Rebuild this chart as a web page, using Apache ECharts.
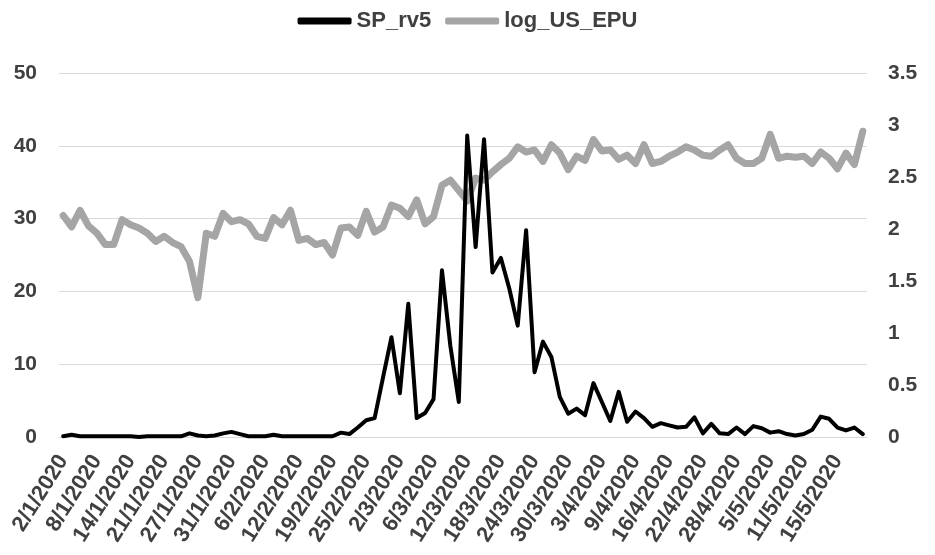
<!DOCTYPE html>
<html>
<head>
<meta charset="utf-8">
<script src="https://cdn.jsdelivr.net/npm/echarts@6/dist/echarts.min.js"></script>
<style>html,body{margin:0;padding:0;background:#fff;}#c{width:935px;height:555px;}</style>
</head>
<body>
<div id="c"></div>
<script>
const dates = [
"2/1/2020","3/1/2020","6/1/2020","7/1/2020","8/1/2020","9/1/2020","10/1/2020","13/1/2020","14/1/2020","15/1/2020",
"16/1/2020","17/1/2020","21/1/2020","22/1/2020","23/1/2020","24/1/2020","27/1/2020","28/1/2020","29/1/2020","30/1/2020",
"31/1/2020","3/2/2020","4/2/2020","5/2/2020","6/2/2020","7/2/2020","10/2/2020","11/2/2020","12/2/2020","13/2/2020",
"14/2/2020","18/2/2020","19/2/2020","20/2/2020","21/2/2020","24/2/2020","25/2/2020","26/2/2020","27/2/2020","28/2/2020",
"2/3/2020","3/3/2020","4/3/2020","5/3/2020","6/3/2020","9/3/2020","10/3/2020","11/3/2020","12/3/2020","13/3/2020",
"16/3/2020","17/3/2020","18/3/2020","19/3/2020","20/3/2020","23/3/2020","24/3/2020","25/3/2020","26/3/2020","27/3/2020",
"30/3/2020","31/3/2020","1/4/2020","2/4/2020","3/4/2020","6/4/2020","7/4/2020","8/4/2020","9/4/2020","13/4/2020",
"14/4/2020","15/4/2020","16/4/2020","17/4/2020","20/4/2020","21/4/2020","22/4/2020","23/4/2020","24/4/2020","27/4/2020",
"28/4/2020","29/4/2020","30/4/2020","4/5/2020","5/5/2020","6/5/2020","7/5/2020","8/5/2020","11/5/2020","12/5/2020",
"13/5/2020","14/5/2020","15/5/2020","18/5/2020","19/5/2020","20/5/2020"
];

const spRv5 = [
0.1,0.3,0.1,0.1,0.1,0.1,0.1,0.1,0.1,0.0,
0.1,0.1,0.1,0.1,0.1,0.5,0.2,0.1,0.2,0.5,
0.7,0.4,0.1,0.1,0.1,0.3,0.1,0.1,0.1,0.1,
0.1,0.1,0.1,0.6,0.4,1.3,2.3,2.6,8.2,13.7,
6.0,18.3,2.6,3.3,5.2,22.9,12.5,4.8,41.4,26.1,
40.9,22.6,24.6,20.4,15.3,28.4,8.9,13.1,11.0,5.5,
3.2,3.9,3.0,7.4,4.8,2.2,6.2,2.1,3.5,2.6,
1.4,1.9,1.6,1.3,1.4,2.7,0.5,1.8,0.5,0.4,
1.3,0.4,1.5,1.2,0.6,0.8,0.4,0.2,0.4,1.0,
2.8,2.5,1.3,0.9,1.3,0.4
];

const logUsEpu = [
2.13,2.02,2.18,2.03,1.96,1.85,1.85,2.09,2.04,2.01,
1.96,1.88,1.93,1.87,1.83,1.69,1.34,1.96,1.93,2.15,
2.07,2.09,2.05,1.93,1.91,2.11,2.04,2.18,1.89,1.91,
1.85,1.87,1.75,2.01,2.02,1.94,2.17,1.97,2.02,2.23,
2.20,2.12,2.28,2.05,2.12,2.42,2.47,2.37,2.27,2.49,
2.47,2.55,2.62,2.68,2.79,2.74,2.76,2.65,2.81,2.73,
2.57,2.70,2.66,2.86,2.75,2.76,2.67,2.71,2.63,2.81,
2.63,2.65,2.70,2.74,2.79,2.76,2.71,2.70,2.76,2.81,
2.68,2.63,2.63,2.68,2.91,2.68,2.70,2.69,2.70,2.63,
2.74,2.68,2.58,2.73,2.62,2.94
];

const leftTicks = {min: 0, max: 50, interval: 10};
const rightTicks = {min: 0, max: 3.5, interval: 0.5};

const FONT = '"Liberation Sans", Arial, sans-serif';
const TXT = '#404040';

const chart = echarts.init(document.getElementById('c'), null, {renderer: 'canvas'});
chart.setOption({
  animation: false,
  backgroundColor: '#fff',
  legend: {
    data: ['SP_rv5', 'log_US_EPU'],
    top: 5,
    left: 'center',
    icon: 'roundRect',
    itemWidth: 54,
    itemHeight: 7,
    itemGap: 14,
    textStyle: {fontFamily: FONT, fontSize: 22, fontWeight: 'bold', color: TXT}
  },
  grid: {left: 59, right: 68, top: 73, bottom: 118, containLabel: false},
  xAxis: {
    type: 'category',
    data: dates,
    boundaryGap: true,
    axisLine: {show: true, lineStyle: {color: '#d9d9d9', width: 1}},
    axisTick: {show: false},
    axisLabel: {
      interval: 3,
      rotate: 58,
      margin: 20,
      fontFamily: FONT,
      fontSize: 22,
      fontWeight: 'bold',
      color: TXT
    },
    splitLine: {show: false}
  },
  yAxis: [
    {
      type: 'value',
      min: leftTicks.min, max: leftTicks.max, interval: leftTicks.interval,
      axisLine: {show: false},
      axisTick: {show: false},
      axisLabel: {fontFamily: FONT, fontSize: 21, fontWeight: 'bold', color: TXT, margin: 22},
      splitLine: {show: true, lineStyle: {color: '#d9d9d9', width: 1.2}}
    },
    {
      type: 'value',
      min: rightTicks.min, max: rightTicks.max, interval: rightTicks.interval,
      axisLine: {show: false},
      axisTick: {show: false},
      axisLabel: {fontFamily: FONT, fontSize: 21, fontWeight: 'bold', color: TXT, margin: 21},
      splitLine: {show: false}
    }
  ],
  series: [
    {
      name: 'log_US_EPU',
      type: 'line',
      yAxisIndex: 1,
      data: logUsEpu,
      showSymbol: false,
      symbol: 'none',
      itemStyle: {color: '#a5a5a5'},
      lineStyle: {color: '#a5a5a5', width: 7, join: 'round', cap: 'round'}
    },
    {
      name: 'SP_rv5',
      type: 'line',
      yAxisIndex: 0,
      data: spRv5,
      showSymbol: false,
      symbol: 'none',
      itemStyle: {color: '#000'},
      lineStyle: {color: '#000', width: 4, join: 'round', cap: 'round'}
    }
  ]
});
</script>
</body>
</html>
